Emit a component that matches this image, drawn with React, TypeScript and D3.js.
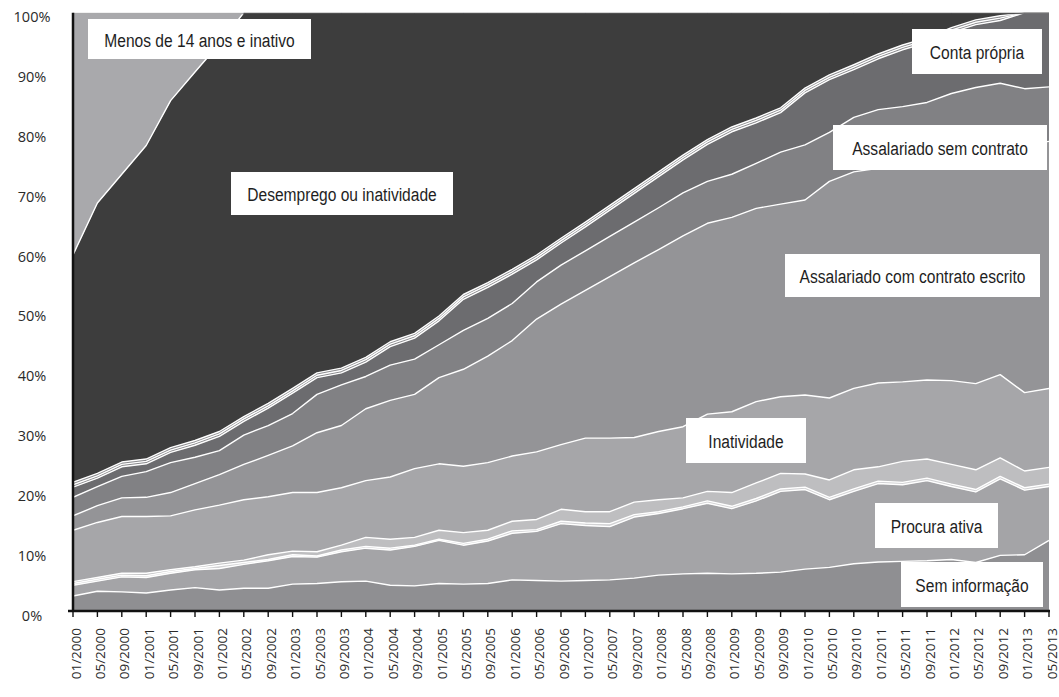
import React from 'react';
import * as d3 from 'd3';

// Periods (one value every 4 months) – also the x tick labels
const periods = [
  '01/2000','05/2000','09/2000','01/2001','05/2001','09/2001','01/2002','05/2002','09/2002',
  '01/2003','05/2003','09/2003','01/2004','05/2004','09/2004','01/2005','05/2005','09/2005',
  '01/2006','05/2006','09/2006','01/2007','05/2007','09/2007','01/2008','05/2008','09/2008',
  '01/2009','05/2009','09/2009','01/2010','05/2010','09/2010','01/2011','05/2011','09/2011',
  '01/2012','05/2012','09/2012','01/2013','05/2013'
];

const yTickValues = [0, 10, 20, 30, 40, 50, 60, 70, 80, 90, 100];
const yTickLabels = ['0%','10%','20%','30%','40%','50%','60%','70%','80%','90%','100%'];

// Shares (%) of each situation, bottom to top
const semInformacao = [2.5,3.3,3.2,3.0,3.5,3.9,3.5,3.8,3.8,4.5,4.6,4.9,5.0,4.3,4.2,4.6,4.5,4.6,5.2,5.1,5.0,5.1,5.2,5.5,6.0,6.2,6.3,6.2,6.3,6.5,7.0,7.3,7.9,8.2,8.3,8.4,8.6,8.1,9.3,9.4,11.8];
const procuraAtiva = [1.8,1.7,2.5,2.6,2.8,3.0,3.6,4.0,4.6,4.6,4.4,5.0,5.5,5.9,6.6,7.2,6.5,7.1,7.8,8.2,9.6,9.2,8.9,10.2,10.3,10.9,11.7,10.9,12.1,13.5,13.3,11.3,12.1,13.1,12.8,13.4,12.2,11.8,12.8,10.8,9.0];
const faixaBaixa1 = [0.3,0.3,0.3,0.3,0.3,0.2,0.5,0.3,0.2,0.3,0.2,0.3,0.3,0.3,0.2,0.2,0.3,0.3,0.4,0.3,0.4,0.4,0.5,0.4,0.3,0.3,0.4,0.4,0.4,0.4,0.4,0.4,0.4,0.4,0.4,0.4,0.4,0.4,0.4,0.4,0.4];
const faixaBaixa2 = [0.3,0.3,0.3,0.4,0.3,0.3,0.4,0.4,0.8,0.6,0.7,0.8,1.5,1.5,1.3,1.5,1.8,1.5,1.6,1.7,2.0,1.9,2.0,2.1,2.0,1.5,1.6,2.3,2.6,2.6,2.2,2.9,3.2,2.4,3.5,3.2,3.3,3.3,3.1,2.8,2.8];
const inatividade = [8.6,9.2,9.5,9.5,9.0,9.5,9.7,10.1,9.7,9.8,9.9,9.6,9.5,10.4,11.5,11.1,11.1,11.3,10.9,11.3,10.8,12.3,12.3,10.8,11.4,11.9,12.9,13.5,13.6,12.8,13.2,13.7,13.6,14.0,13.3,13.2,14.0,14.4,13.9,13.1,13.2];
const comContrato = [2.4,2.8,3.1,3.2,3.9,4.4,5.1,5.9,6.9,7.8,10.0,10.4,12.0,12.8,12.4,14.4,16.2,17.8,19.3,22.2,23.5,24.7,27.0,29.2,30.4,31.9,31.9,32.5,32.3,32.2,32.6,36.2,36.2,35.9,36.4,36.7,37.5,38.6,37.8,41.4,41.3];
const semContrato = [3.1,3.2,3.6,4.3,5.0,4.4,4.0,4.9,5.0,5.4,6.4,6.8,5.4,5.9,5.9,5.5,6.5,6.3,6.2,6.2,6.5,6.6,6.7,6.8,7.0,7.2,7.0,7.2,7.5,8.7,9.2,8.2,9.1,9.8,9.6,9.7,10.5,10.9,10.9,9.4,9.1];
const contaPropria = [1.7,1.4,1.6,1.3,1.7,2.0,2.4,2.3,2.9,3.4,2.8,2.0,2.4,3.1,3.5,4.0,5.2,5.2,4.9,3.7,3.7,4.0,4.4,4.8,5.2,5.5,6.2,7.1,6.8,6.6,8.7,8.8,8.0,8.5,9.5,10.0,10.2,10.5,10.5,12.7,12.4];
const faixaAlta1 = [0.4,0.4,0.4,0.4,0.4,0.4,0.4,0.4,0.4,0.4,0.4,0.4,0.4,0.4,0.4,0.4,0.4,0.4,0.4,0.4,0.4,0.4,0.4,0.4,0.4,0.4,0.4,0.4,0.4,0.4,0.4,0.4,0.4,0.4,0.4,0.4,0.4,0.4,0.4,0,0];
const faixaAlta2 = [0.4,0.4,0.4,0.4,0.4,0.4,0.4,0.4,0.4,0.4,0.4,0.4,0.4,0.4,0.4,0.4,0.4,0.4,0.4,0.4,0.4,0.4,0.4,0.4,0.4,0.4,0.4,0.4,0.4,0.4,0.4,0.4,0.4,0.4,0.4,0.4,0.4,0.4,0.4,0,0];
const desemprego = [38.0,45.2,48.1,52.4,58.0,61.6,64.8,67.5,65.3,62.8,60.2,59.4,57.6,55.0,53.6,50.7,47.1,45.1,42.9,40.5,37.7,35.0,32.2,29.4,26.6,23.8,21.2,19.1,17.6,15.9,12.6,10.4,8.7,6.9,5.4,4.2,2.5,1.2,0.5,0,0];
const menos14 = [40.5,31.8,27.0,22.2,14.7,9.9,5.2,0,0,0,0,0,0,0,0,0,0,0,0,0,0,0,0,0,0,0,0,0,0,0,0,0,0,0,0,0,0,0,0,0,0];

const layerKeys = ['semInformacao','procuraAtiva','faixaBaixa1','faixaBaixa2','inatividade','comContrato','semContrato','contaPropria','faixaAlta1','faixaAlta2','desemprego','menos14'];
const layerValues = [semInformacao, procuraAtiva, faixaBaixa1, faixaBaixa2, inatividade, comContrato, semContrato, contaPropria, faixaAlta1, faixaAlta2, desemprego, menos14];
const layerColors = ['#8f8f92','#a4a4a7','#d2d2d4','#bebec0','#a6a6a9','#949497','#818184','#6c6c6f','#88888b','#88888b','#3d3d3d','#a9a9ac'];

const boxLabels = [
  { text: 'Menos de 14 anos e inativo', x: 88, y: 19, w: 223, h: 40 },
  { text: 'Desemprego ou inatividade', x: 231, y: 172, w: 222, h: 43 },
  { text: 'Conta própria', x: 912, y: 29, w: 130, h: 45 },
  { text: 'Assalariado sem contrato', x: 833, y: 125, w: 214, h: 45 },
  { text: 'Assalariado com contrato escrito', x: 785, y: 254, w: 255, h: 43 },
  { text: 'Inatividade', x: 686, y: 418, w: 120, h: 45 },
  { text: 'Procura ativa', x: 875, y: 503, w: 123, h: 45 },
  { text: 'Sem informação', x: 901, y: 562, w: 142, h: 45 },
];

export default function App() {
  const W = 1059, H = 697;
  const left = 73, right = 1049, bottom = 611, top = 12.7;

  const x = d3.scalePoint<string>().domain(periods).range([left, right]);
  const y = d3.scaleLinear().domain([0, 1]).range([bottom, top]);

  const rows = periods.map((p, i) => {
    const r: any = { period: p };
    layerKeys.forEach((k, j) => { r[k] = layerValues[j][i]; });
    return r;
  });
  const series = d3.stack<any>().keys(layerKeys).offset(d3.stackOffsetExpand)(rows);

  const area = d3.area<any>()
    .x((d) => x(d.data.period) as number)
    .y0((d) => y(d[0]))
    .y1((d) => y(d[1]));
  const line = d3.line<any>()
    .x((d) => x(d.data.period) as number)
    .y((d) => y(d[1]));

  const tickFont = "'Open Sans', 'Noto Sans', sans-serif";
  const labelFont = "'Liberation Sans', Arial, sans-serif";

  return (
    <svg width={W} height={H} style={{ position: 'absolute', left: 0, top: 0, background: '#fff' }}>
      <defs>
        <clipPath id="plotClip">
          <rect x={left} y={top} width={right - left} height={bottom - top} />
        </clipPath>
        <clipPath id="lineClip">
          <rect x={left} y={top + 1.5} width={right - left} height={bottom - top - 1.5} />
        </clipPath>
      </defs>
      <g clipPath="url(#plotClip)">
        {series.map((s, i) => (
          <path key={layerKeys[i]} d={area(s) as string} fill={layerColors[i]} stroke={layerColors[i]} strokeWidth={0.5} />
        ))}
      </g>
      <g clipPath="url(#lineClip)">
        {series.slice(0, series.length - 1).map((s, i) => (
          <path key={'l' + i} d={line(s) as string} fill="none" stroke="#ffffff" strokeWidth={1.4} strokeLinejoin="round" />
        ))}
      </g>
      {/* axes */}
      <line x1={left} x2={left} y1={top} y2={bottom} stroke="#111" strokeWidth={2.5} />
      <line x1={68} x2={right + 1} y1={bottom} y2={bottom} stroke="#111" strokeWidth={2.5} />
      {periods.map((p) => (
        <line key={'t' + p} x1={x(p)} x2={x(p)} y1={bottom} y2={bottom + 6} stroke="#111" strokeWidth={1.4} />
      ))}
      {periods.map((p) => (
        <text
          key={'xl' + p}
          transform={`translate(${(x(p) as number) + 2.5},${628}) rotate(-90)`}
          textAnchor="end"
          dominantBaseline="central"
          fontFamily={tickFont}
          fontSize={13.5}
          fill="#2a2a2a"
        >{p}</text>
      ))}
      {yTickValues.map((v, i) => (
        <text
          key={'yl' + v}
          x={32}
          y={y(v / 100) + 4}
          textAnchor="middle"
          dominantBaseline="central"
          fontFamily={tickFont}
          fontSize={14.5}
          fill="#2a2a2a"
        >{yTickLabels[i]}</text>
      ))}
      {boxLabels.map((b) => (
        <g key={b.text}>
          <rect x={b.x} y={b.y} width={b.w} height={b.h} fill="#fff" />
          <g transform={`translate(${b.x + b.w / 2},${b.y + b.h / 2 + 1}) scale(0.82,1)`}>
            <text x={0} y={0} textAnchor="middle" dominantBaseline="central"
              fontFamily={labelFont} fontSize={19} fill="#1e1e1e">{b.text}</text>
          </g>
        </g>
      ))}
    </svg>
  );
}
